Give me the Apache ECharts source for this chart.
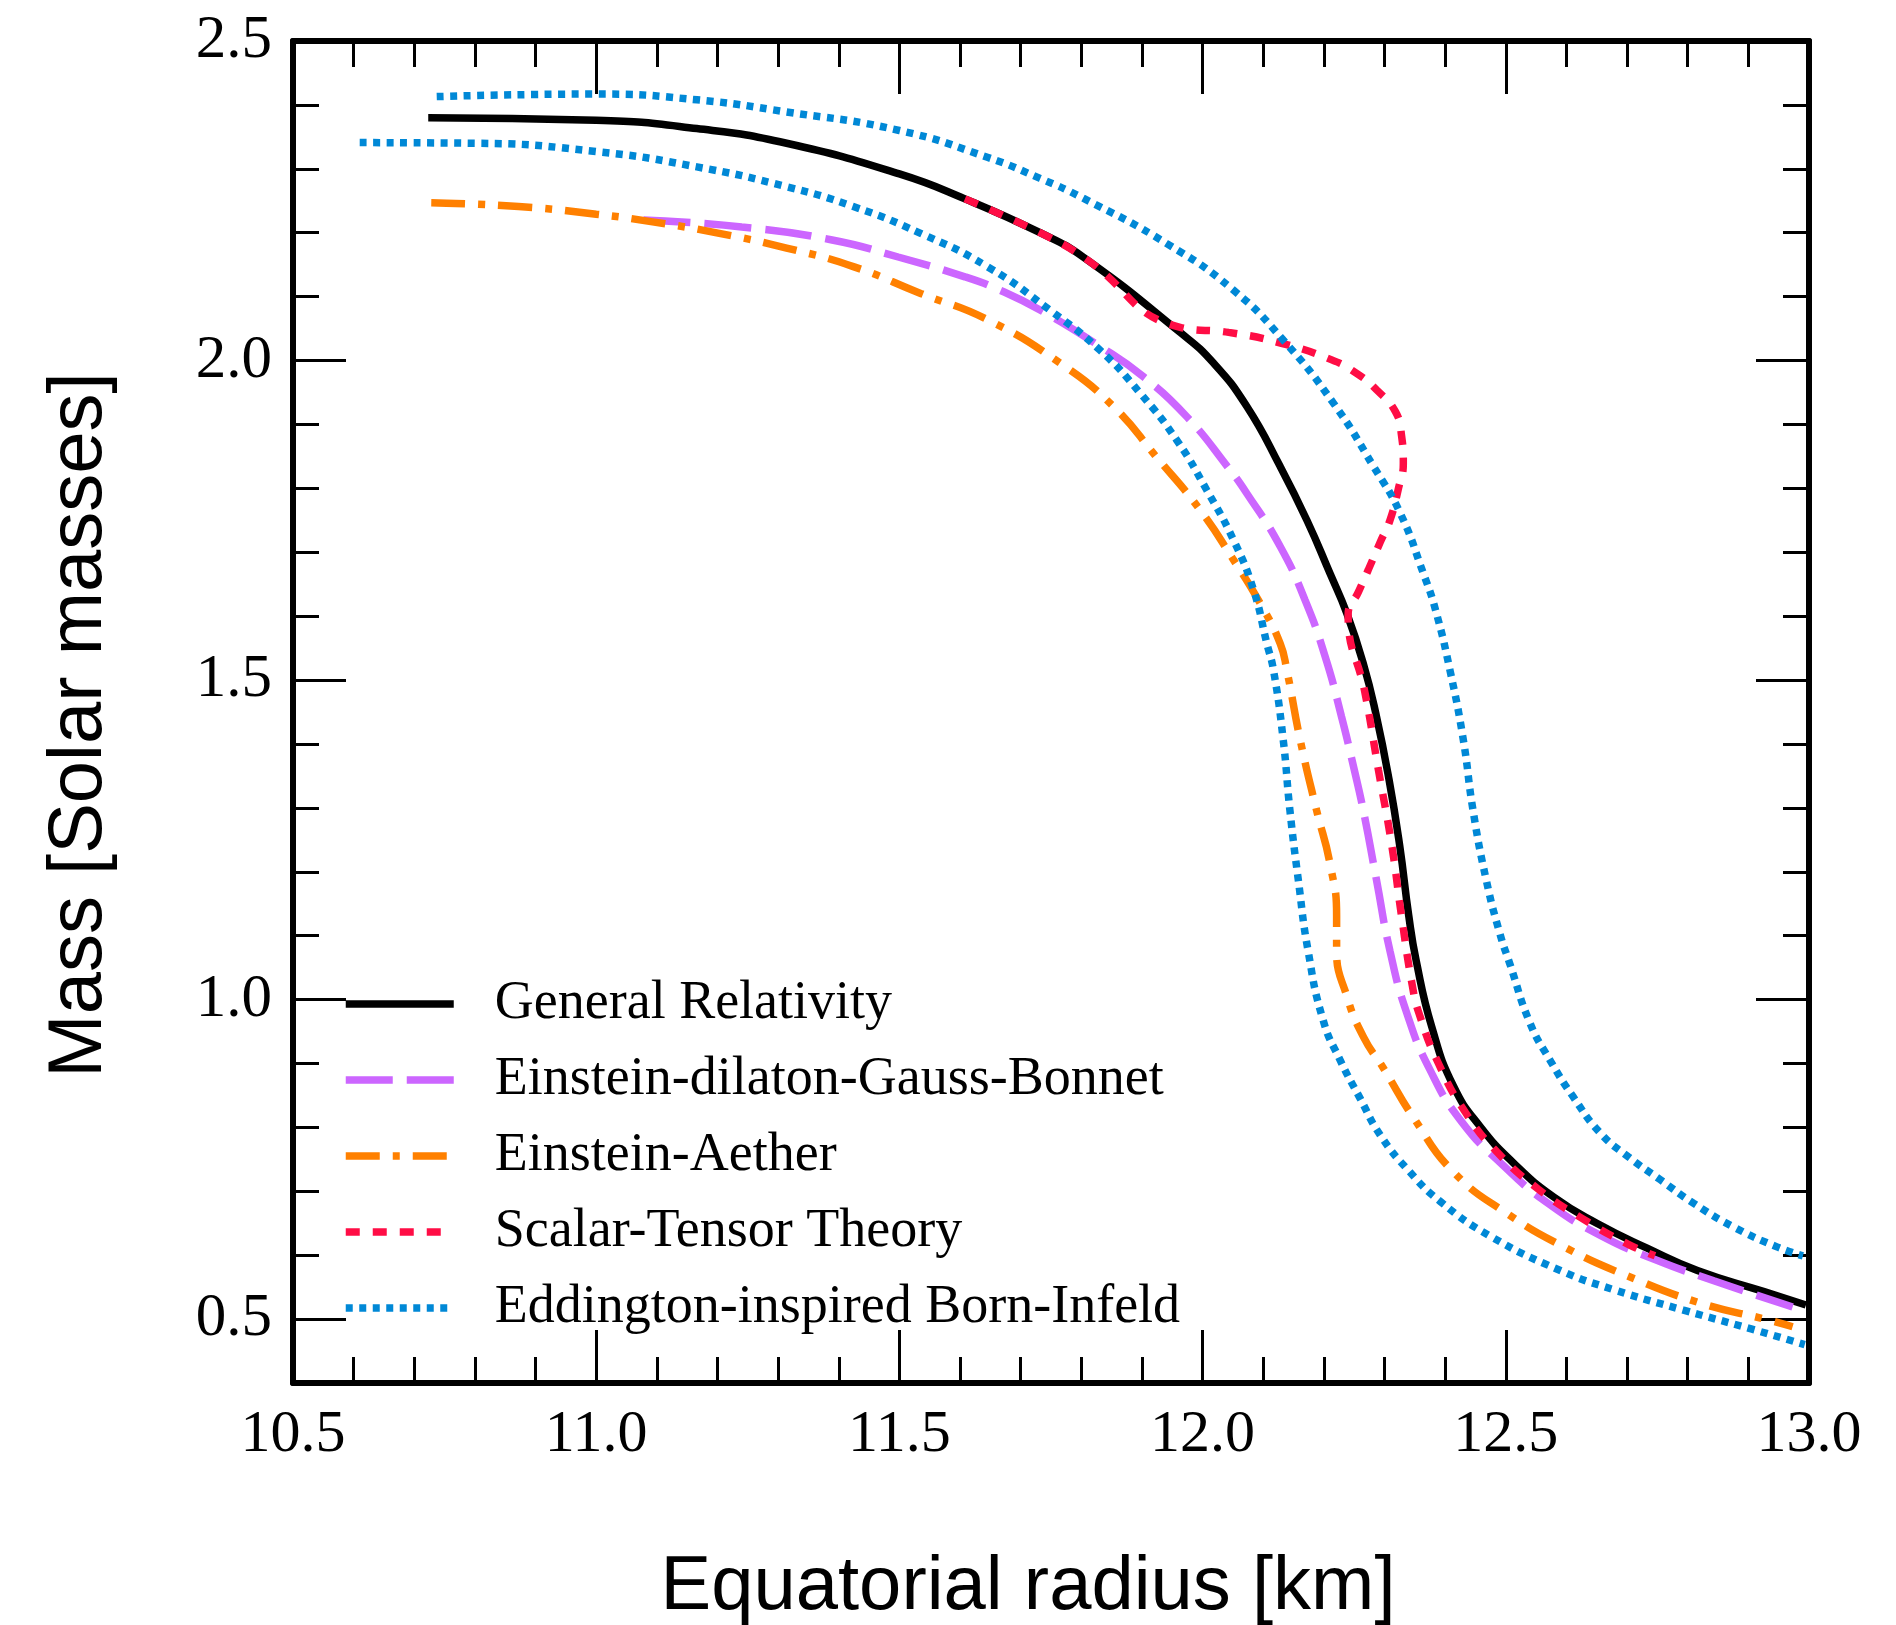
<!DOCTYPE html>
<html><head><meta charset="utf-8">
<script src="https://cdn.jsdelivr.net/npm/echarts@6/dist/echarts.min.js"></script>
<style>html,body{margin:0;padding:0;background:#fff;overflow:hidden;width:1896px;height:1625px}#c{display:block;width:1896px;height:1625px}</style>
</head><body><div id="c"></div>
<script>
// ---- data (radius km, mass solar masses) ----
const seriesNames = ['General Relativity','Einstein-dilaton-Gauss-Bonnet','Einstein-Aether','Scalar-Tensor Theory','Eddington-inspired Born-Infeld'];
const yMajorTicks = [0.5, 1.0, 1.5, 2.0, 2.5];

const grR = [10.723,11.0,11.166,11.314,11.5,11.608,11.732,11.803,11.963,12.018,12.073,12.128,12.172,12.210,12.238,12.265,12.2856,12.3075,12.325,12.340,12.352,12.378,12.414,12.458,12.513,12.579,12.650,12.733,12.816,12.926,12.995];
const grM = [2.380,2.376,2.363,2.340,2.292,2.253,2.200,2.162,2.044,1.996,1.928,1.834,1.750,1.667,1.604,1.526,1.448,1.344,1.241,1.131,1.062,0.957,0.864,0.801,0.744,0.691,0.650,0.611,0.576,0.543,0.522];

const edgbR = [11.078,11.240,11.387,11.498,11.608,11.666,11.732,11.831,11.902,11.974,12.041,12.073,12.128,12.169,12.202,12.229,12.249,12.265,12.287,12.309,12.337,12.375,12.427,12.495,12.570,12.656,12.749,12.843,12.973];
const edgbM = [2.220,2.209,2.189,2.162,2.131,2.110,2.079,2.022,1.975,1.912,1.834,1.792,1.709,1.625,1.537,1.443,1.364,1.296,1.186,1.076,0.978,0.890,0.809,0.741,0.681,0.631,0.592,0.560,0.519];

const eaR = [10.728,10.872,11.0,11.093,11.203,11.314,11.424,11.535,11.645,11.765,11.853,11.924,11.996,12.051,12.095,12.128,12.139,12.161,12.188,12.210,12.221,12.221,12.238,12.265,12.298,12.348,12.414,12.504,12.600,12.702,12.821,12.931,12.973];
const eaM = [2.247,2.241,2.229,2.217,2.199,2.176,2.147,2.105,2.064,1.996,1.928,1.849,1.766,1.688,1.620,1.557,1.515,1.406,1.296,1.213,1.131,1.076,1.005,0.942,0.893,0.815,0.730,0.664,0.611,0.567,0.525,0.499,0.488];

const stR = [11.608,11.732,11.803,11.963,12.043,12.130,12.213,12.254,12.287,12.318,12.328,12.331,12.323,12.309,12.293,12.273,12.257,12.240,12.268,12.290,12.312,12.328,12.346,12.357,12.389,12.433,12.485,12.554,12.625,12.702,12.746];
const stM = [2.253,2.200,2.162,2.052,2.044,2.027,2.001,1.980,1.954,1.920,1.883,1.839,1.800,1.750,1.716,1.672,1.638,1.602,1.479,1.359,1.241,1.131,1.021,0.978,0.900,0.824,0.762,0.703,0.658,0.617,0.599];

const eibiUpperR = [10.737,11.0,11.166,11.314,11.5,11.645,11.732,11.803,11.941,12.051,12.133,12.216,12.282,12.326,12.364,12.384,12.408,12.430,12.446,12.468,12.490,12.507,12.540,12.573,12.611,12.656,12.702,12.755,12.810,12.876,12.947,12.990];
const eibiUpperM = [2.413,2.417,2.408,2.389,2.360,2.318,2.285,2.254,2.183,2.110,2.032,1.933,1.834,1.761,1.667,1.610,1.515,1.406,1.296,1.186,1.104,1.055,0.963,0.905,0.848,0.791,0.754,0.718,0.681,0.644,0.613,0.599];

const eibiLowerR = [10.610,10.799,11.0,11.166,11.314,11.424,11.535,11.645,11.748,11.831,11.897,11.957,12.007,12.051,12.084,12.106,12.117,12.133,12.144,12.158,12.174,12.199,12.227,12.260,12.293,12.340,12.392,12.474,12.590,12.678,12.793,12.903,12.993];
const eibiLowerM = [2.341,2.340,2.327,2.303,2.272,2.241,2.199,2.147,2.079,2.016,1.949,1.876,1.797,1.719,1.641,1.557,1.515,1.406,1.296,1.186,1.076,0.967,0.905,0.845,0.788,0.732,0.684,0.630,0.576,0.546,0.514,0.485,0.460];

const zip = (a, b) => a.map((v, i) => [v, b[i]]);

const fmt = v => Number(v).toFixed(1);
const tickStyle = {color:'#000', width:3};
const serif = 'Liberation Serif';

function mkLine(name, r, m, color, type) {
  return {
    name, type:'line', data: zip(r, m), xAxisIndex:0, yAxisIndex:0,
    symbol:'none', showSymbol:false, smooth:0.5, clip:true,
    lineStyle:{color, width:7.5, type, cap:'butt'},
    itemStyle:{color}, emphasis:{disabled:true}
  };
}

const chart = echarts.init(document.getElementById('c'), null, {renderer:'canvas'});
chart.setOption({
  animation:false,
  backgroundColor:'#fff',
  grid:{left:293, top:41, width:1516, height:1342, containLabel:false, outerBoundsMode:'none'},
  legend:{
    orient:'vertical', left:342, top:977, padding:0,
    itemWidth:108, itemHeight:14, itemGap:22,
    data: seriesNames,
    lineStyle:{width:'inherit'},
    itemStyle:{opacity:0, color:'rgba(0,0,0,0)', borderColor:'rgba(0,0,0,0)', borderWidth:0},
    textStyle:{fontFamily:serif, fontSize:54, color:'#000', padding:[0,0,0,36]},
    selectedMode:false
  },
  xAxis:[
    {type:'value', position:'bottom', min:10.5, max:13, interval:0.5,
     axisLine:{show:true, onZero:false, lineStyle:{color:'#000', width:6}},
     axisTick:{show:true, inside:true, length:53, lineStyle:tickStyle},
     minorTick:{show:true, splitNumber:5, length:26, lineStyle:tickStyle},
     splitLine:{show:false}, minorSplitLine:{show:false},
     axisLabel:{margin:22, fontFamily:serif, fontSize:60, color:'#000', formatter:fmt},
     name:'Equatorial radius [km]', nameLocation:'middle', nameGap:167,
     nameTextStyle:{fontFamily:'Liberation Sans', fontSize:76, color:'#000', padding:[0,46,0,0]}},
    {type:'value', position:'top', min:10.5, max:13, interval:0.5,
     axisLine:{show:true, onZero:false, lineStyle:{color:'#000', width:6}},
     axisTick:{show:true, inside:true, length:53, lineStyle:tickStyle},
     minorTick:{show:true, splitNumber:5, length:26, lineStyle:tickStyle},
     splitLine:{show:false}, minorSplitLine:{show:false},
     axisLabel:{show:false}}
  ],
  yAxis:[
    {type:'value', position:'left', min:0.4, max:2.5, interval:0.1,
     axisLine:{show:true, onZero:false, lineStyle:{color:'#000', width:6}},
     axisTick:{show:true, inside:true, length:26, lineStyle:tickStyle},
     splitLine:{show:false}, axisLabel:{show:false}},
    {type:'value', position:'left', min:0.4, max:2.5,
     axisLine:{show:false},
     axisTick:{show:true, inside:true, length:53, lineStyle:tickStyle, customValues:yMajorTicks},
     splitLine:{show:false},
     axisLabel:{show:true, customValues:yMajorTicks, margin:21, fontFamily:serif, fontSize:61, color:'#000', formatter:fmt, padding:[0,0,10,0]},
     name:'Mass [Solar masses]', nameLocation:'middle', nameGap:175,
     nameTextStyle:{fontFamily:'Liberation Sans', fontSize:76, color:'#000', padding:[0,26,0,0]}},
    {type:'value', position:'right', min:0.4, max:2.5, interval:0.1,
     axisLine:{show:true, onZero:false, lineStyle:{color:'#000', width:6}},
     axisTick:{show:true, inside:true, length:26, lineStyle:tickStyle},
     splitLine:{show:false}, axisLabel:{show:false}},
    {type:'value', position:'right', min:0.4, max:2.5,
     axisLine:{show:false},
     axisTick:{show:true, inside:true, length:53, lineStyle:tickStyle, customValues:yMajorTicks},
     splitLine:{show:false}, axisLabel:{show:false}}
  ],
  series:[
    mkLine(seriesNames[0], grR, grM, '#000000', 'solid'),
    mkLine(seriesNames[1], edgbR, edgbM, '#CC66FF', [47,14]),
    mkLine(seriesNames[2], eaR, eaM, '#FF8000', [34,13,7,13]),
    mkLine(seriesNames[3], stR, stM, '#FF0D45', [14,13]),
    mkLine(seriesNames[4], eibiUpperR, eibiUpperM, '#0088D6', [7,6.5]),
    mkLine(seriesNames[4], eibiLowerR, eibiLowerM, '#0088D6', [7,6.5])
  ]
});
</script>
</body></html>
